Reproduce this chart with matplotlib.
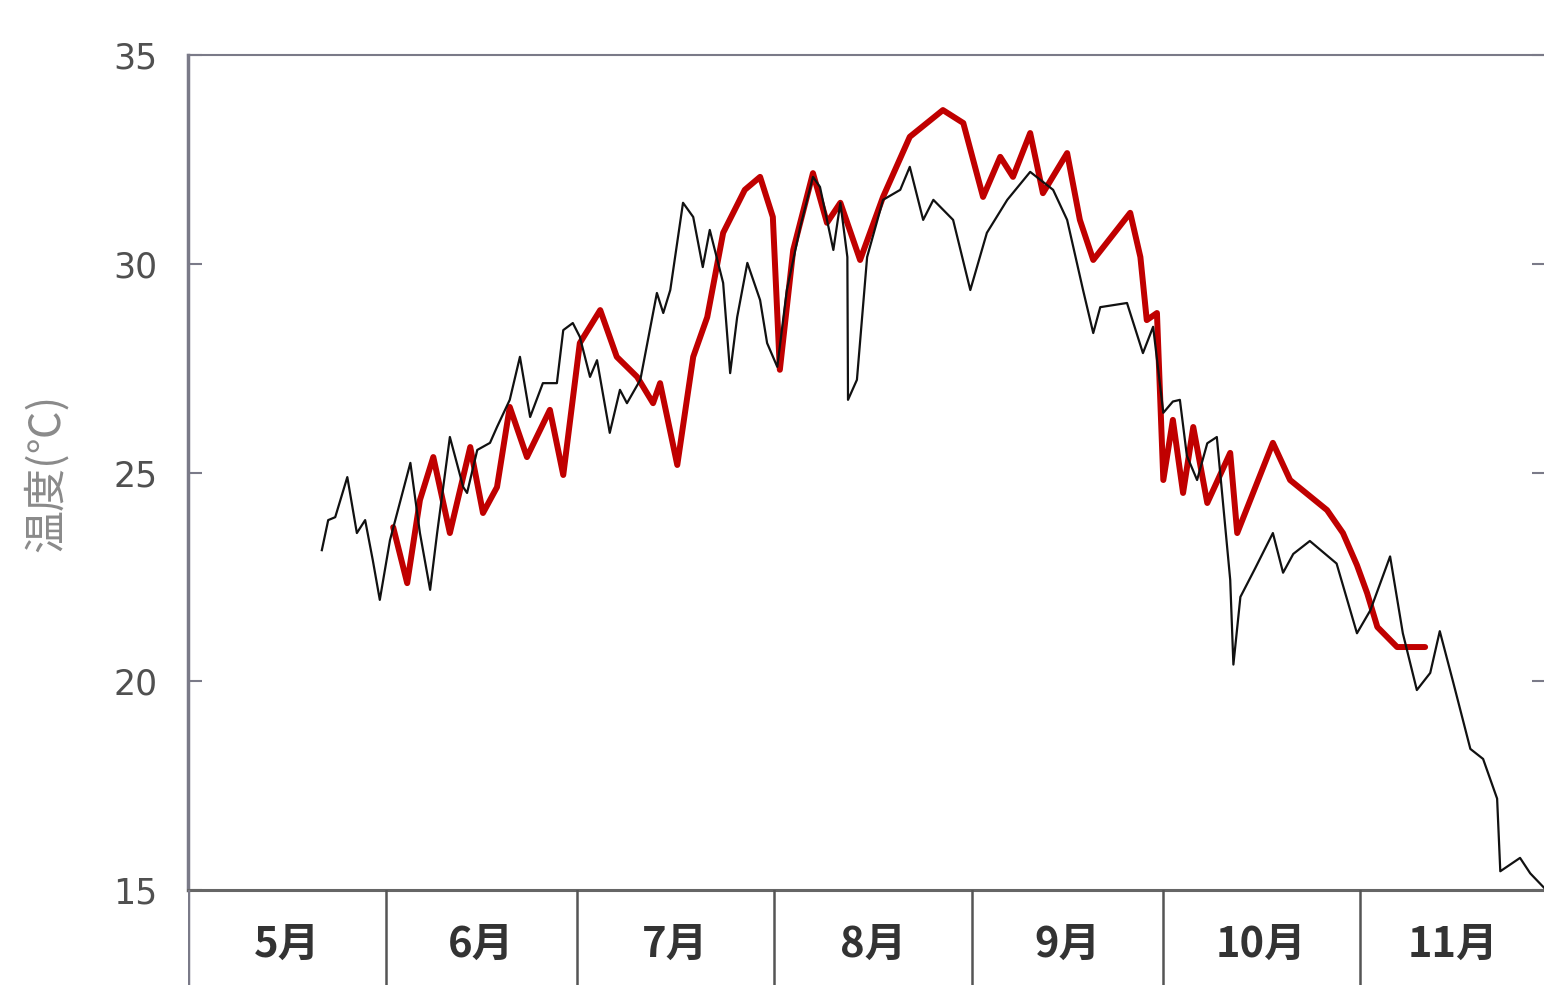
import matplotlib
matplotlib.use("Agg")
import matplotlib.pyplot as plt

plt.rcParams['font.family'] = ['Noto Sans CJK JP', 'DejaVu Sans']

# days counted from 1 May
month_starts = [0, 31, 61, 92, 123, 153, 184]
month_labels = ["5月", "6月", "7月", "8月", "9月", "10月", "11月"]
x_end = 213.2

# black: thin line, starts in late May
black_day = [21.0, 22.0, 23.1, 25.0, 26.5, 27.8, 29.0, 30.1, 31.7, 34.9,
             36.4, 38.0, 39.1, 41.1, 43.2, 43.8, 45.4, 47.4, 48.5, 50.5,
             52.1, 53.7, 55.7, 57.9, 58.9, 60.4, 61.5, 63.1, 64.2, 66.2,
             67.8, 68.9, 71.0, 73.6, 74.6, 75.7, 77.7, 79.3, 80.8, 81.9,
             84.0, 85.1, 86.2, 87.8, 89.8, 90.9, 92.5, 94.0, 96.1, 98.1,
             99.2, 101.3, 102.4, 103.5, 103.6, 105.0, 106.6, 109.1, 111.8, 113.3,
             115.4, 117.0, 120.1, 122.8, 125.4, 128.6, 132.2, 135.8, 138.0, 140.5,
             142.1, 143.2, 147.4, 149.9, 151.5, 153.1, 154.6, 155.7, 156.8, 158.4,
             160.0, 161.5, 163.6, 164.1, 165.2, 167.5, 170.3, 171.9, 173.5, 176.1,
             180.3, 183.5, 185.6, 188.7, 190.7, 192.9, 195.0, 196.5, 198.6, 201.3,
             203.3, 205.5, 206.0, 209.1, 210.7, 212.9]
black_temp = [23.14, 23.86, 23.93, 24.89, 23.55, 23.86, 22.90, 21.95, 23.38, 25.23,
              23.55, 22.19, 23.55, 25.85, 24.65, 24.51, 25.54, 25.71, 26.09, 26.74,
              27.77, 26.33, 27.14, 27.14, 28.41, 28.58, 28.25, 27.29, 27.69, 25.95,
              26.98, 26.66, 27.22, 29.30, 28.82, 29.37, 31.46, 31.12, 29.92, 30.81,
              29.54, 27.38, 28.72, 30.02, 29.13, 28.10, 27.53, 29.37, 30.88, 32.08,
              31.84, 30.33, 31.46, 30.16, 26.74, 27.22, 30.16, 31.53, 31.77, 32.32,
              31.05, 31.53, 31.05, 29.37, 30.74, 31.53, 32.20, 31.77, 31.05, 29.37,
              28.34, 28.96, 29.06, 27.86, 28.49, 26.43, 26.70, 26.74, 25.40, 24.82,
              25.70, 25.85, 22.43, 20.40, 22.02, 22.70, 23.55, 22.60, 23.05, 23.36,
              22.82, 21.15, 21.70, 22.99, 21.15, 19.79, 20.20, 21.20, 19.98, 18.38,
              18.14, 17.19, 15.45, 15.77, 15.40, 15.05]

# red: thick line, June to early November
red_day = [32.2, 34.4, 36.4, 38.5, 41.1, 44.3, 46.3, 48.5, 50.5, 53.2,
           56.8, 58.9, 61.5, 64.7, 67.3, 70.5, 73.0, 74.1, 76.8, 79.3,
           81.5, 84.0, 87.4, 89.8, 91.8, 92.9, 95.0, 98.1, 100.3, 102.4,
           105.5, 109.1, 113.3, 118.5, 121.7, 124.8, 127.5, 129.5, 132.2, 134.2,
           138.0, 140.0, 142.1, 147.9, 149.5, 150.5, 152.1, 153.1, 154.6, 156.2,
           157.8, 160.0, 163.6, 164.7, 170.3, 173.0, 178.8, 181.3, 183.5, 185.1,
           186.7, 189.8, 194.2]
red_temp = [23.69, 22.35, 24.34, 25.37, 23.55, 25.61, 24.03, 24.65, 26.57, 25.37,
            26.50, 24.94, 28.10, 28.89, 27.77, 27.29, 26.66, 27.14, 25.18, 27.77,
            28.72, 30.74, 31.77, 32.08, 31.12, 27.46, 30.33, 32.17, 30.98, 31.46,
            30.09, 31.60, 33.04, 33.68, 33.37, 31.60, 32.56, 32.08, 33.13, 31.69,
            32.65, 31.05, 30.09, 31.22, 30.16, 28.65, 28.82, 24.82, 26.26, 24.51,
            26.09, 24.27, 25.47, 23.55, 25.71, 24.82, 24.10, 23.55, 22.78, 22.11,
            21.30, 20.82, 20.82]

y_ticks = [15, 20, 25, 30, 35]

spine_grey = "#7a7a88"
label_grey = "#505050"

fig = plt.figure(figsize=(15.44, 9.85), dpi=100)
ax = fig.add_axes([0.1218, 0.0964, 0.8796, 0.8478])

ax.plot(black_day, black_temp, color="#111111", lw=1.6, zorder=3)
ax.plot(red_day, red_temp, color="#c00000", lw=4.3, zorder=2,
        solid_joinstyle="round", solid_capstyle="round")

ax.set_xlim(0, x_end)
ax.set_ylim(15, 35)
ax.set_xticks([])
ax.set_yticks(y_ticks)
ax.set_yticklabels([str(v) for v in y_ticks], family="DejaVu Sans")
ax.tick_params(axis="y", which="both", direction="in", length=10, width=1.5,
               color=spine_grey, labelsize=25, labelcolor=label_grey, pad=22,
               right=True)

ax.spines["left"].set_color(spine_grey)
ax.spines["left"].set_linewidth(2.5)
ax.spines["top"].set_color(spine_grey)
ax.spines["top"].set_linewidth(1.5)
ax.spines["bottom"].set_color("#666666")
ax.spines["bottom"].set_linewidth(2.2)
ax.spines["right"].set_visible(False)

ax.set_ylabel("温度(℃)", fontsize=31, color="#8a8a8a", labelpad=32)

# month band under the plot
band = fig.add_axes([0.1218, -0.05, 0.8796, 0.1464], sharex=ax)
band.set_ylim(0, 1)
band.axis("off")
band.axvline(0, color=spine_grey, lw=2.5)
for s in month_starts[1:]:
    band.axvline(s, color="#555555", lw=1.8)
edges = month_starts + [x_end]
for i, lab in enumerate(month_labels):
    mid = (edges[i] + edges[i + 1]) / 2
    band.text(mid, 0.62, lab, ha="center", va="center", fontsize=30,
              color="#333333", fontweight="bold")

fig.savefig("out.png", dpi=100, facecolor="white")
